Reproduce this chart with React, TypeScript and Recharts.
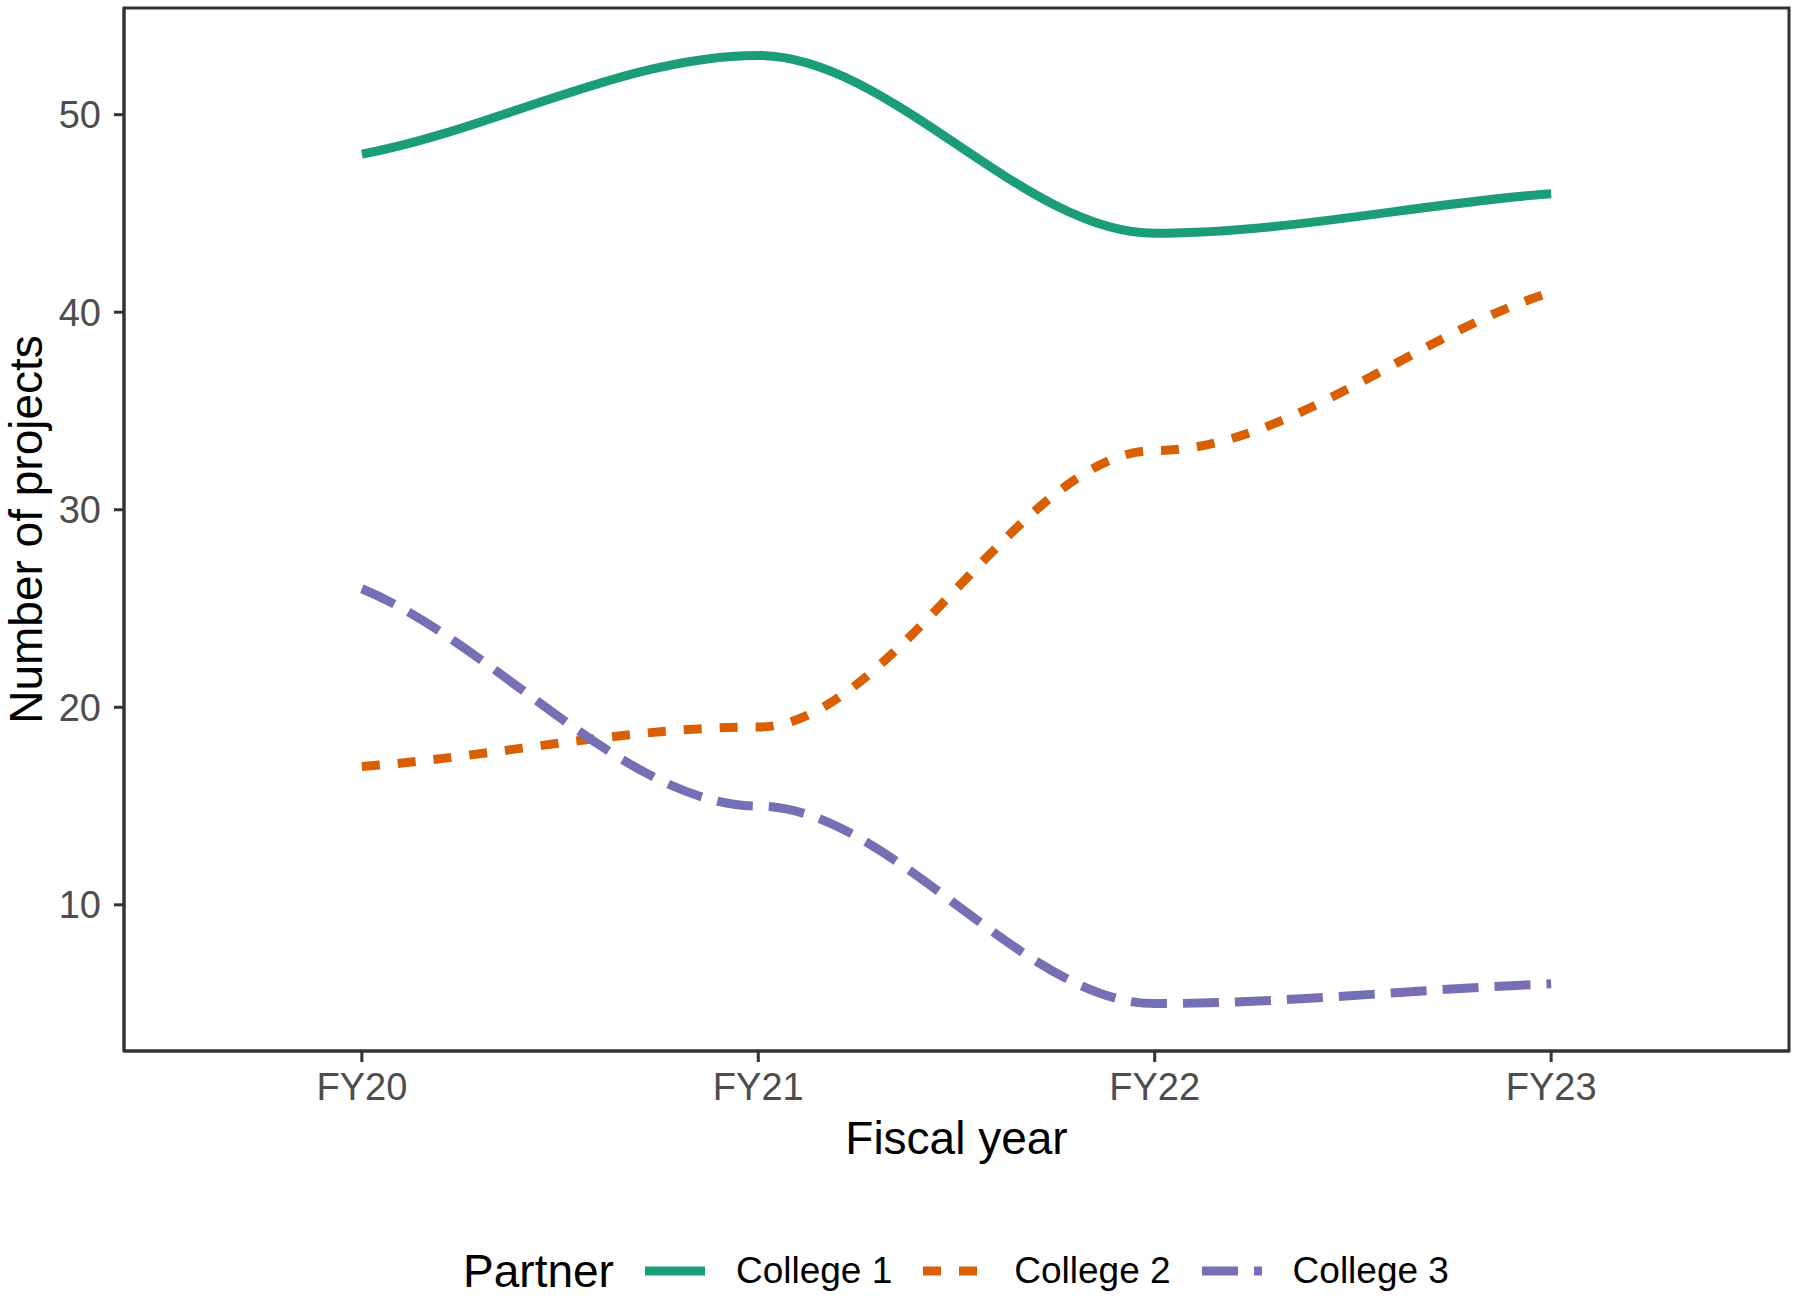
import React from "react";
import {
  LineChart,
  Line,
  XAxis,
  YAxis,
  Legend,
  ReferenceArea,
} from "recharts";

// values
const fiscalYears = ["FY20", "FY21", "FY22", "FY23"];
const college1 = [48, 53, 44, 46];
const college2 = [17, 19, 33, 41];
const college3 = [26, 15, 5, 6];
const yTicks = [10, 20, 30, 40, 50];

const series = [
  { key: "college1", name: "College 1", color: "#1B9E77", dash: undefined as string | undefined },
  { key: "college2", name: "College 2", color: "#D95F02", dash: "18 18" },
  { key: "college3", name: "College 3", color: "#7570B3", dash: "36 16" },
];

const data = fiscalYears.map((fy, i) => ({
  x: i,
  fy,
  college1: college1[i],
  college2: college2[i],
  college3: college3[i],
}));

const FONT = '"Liberation Sans", Arial, Helvetica, sans-serif';
const X_DOMAIN: [number, number] = [-0.6, 3.6];
const Y_DOMAIN: [number, number] = [2.6, 55.4];

// smooth curve: flat through inner points, some slope kept at the ends
const END_K = 0.75;
function flatKnotCurve(context: any) {
  let xs: number[] = [];
  let ys: number[] = [];
  return {
    areaStart() {},
    areaEnd() {},
    lineStart() {
      xs = [];
      ys = [];
    },
    point(x: number, y: number) {
      xs.push(+x);
      ys.push(+y);
    },
    lineEnd() {
      const n = xs.length;
      if (!n) return;
      context.moveTo(xs[0], ys[0]);
      const m = xs.map((_, i) => {
        if (n < 2) return 0;
        if (i === 0) return (END_K * (ys[1] - ys[0])) / (xs[1] - xs[0]);
        if (i === n - 1)
          return (END_K * (ys[n - 1] - ys[n - 2])) / (xs[n - 1] - xs[n - 2]);
        return 0;
      });
      for (let i = 0; i < n - 1; i++) {
        const h = xs[i + 1] - xs[i];
        context.bezierCurveTo(
          xs[i] + h / 3,
          ys[i] + (m[i] * h) / 3,
          xs[i + 1] - h / 3,
          ys[i + 1] - (m[i + 1] * h) / 3,
          xs[i + 1],
          ys[i + 1]
        );
      }
    },
  };
}

function PartnerLegend() {
  return (
    <div
      style={{
        height: 52,
        display: "flex",
        alignItems: "center",
        justifyContent: "center",
        paddingLeft: 116,
        fontFamily: FONT,
        color: "#000",
      }}
    >
      <span style={{ fontSize: 46, marginRight: 31 }}>Partner</span>
      {series.map((s, i) => (
        <React.Fragment key={s.key}>
          <svg width={60} height={20} style={{ display: "block" }}>
            <line
              x1={0}
              y1={10}
              x2={60}
              y2={10}
              stroke={s.color}
              strokeWidth={9}
              strokeDasharray={s.dash}
            />
          </svg>
          <span
            style={{
              fontSize: 37,
              marginLeft: 31,
              marginRight: i < series.length - 1 ? 31 : 0,
            }}
          >
            {s.name}
          </span>
        </React.Fragment>
      ))}
    </div>
  );
}

export default function App() {
  return (
    <div style={{ background: "#fff" }}>
      <style>{`body{margin:0;background:#fff}`}</style>
      <LineChart
        width={1796}
        height={1299}
        data={data}
        margin={{ top: 8, right: 7, left: 0, bottom: 6 }}
      >
        <XAxis
          type="number"
          dataKey="x"
          domain={X_DOMAIN}
          ticks={[0, 1, 2, 3]}
          tickFormatter={(v: number) => fiscalYears[v]}
          height={190}
          tickSize={11}
          tickMargin={11}
          interval={0}
          axisLine={{ stroke: "#333333", strokeWidth: 3 }}
          tickLine={{ stroke: "#333333", strokeWidth: 3 }}
          tick={{ fill: "#4D4D4D", fontSize: 38, fontFamily: FONT }}
          label={{
            content: (props: any) => {
              const vb = props.viewBox || {};
              return (
                <text
                  x={vb.x + vb.width / 2}
                  y={vb.y + 103}
                  textAnchor="middle"
                  fontSize={46}
                  fontFamily={FONT}
                  fill="#000"
                >
                  Fiscal year
                </text>
              );
            },
          }}
        />
        <YAxis
          type="number"
          domain={Y_DOMAIN}
          ticks={yTicks}
          width={124}
          tickSize={10}
          tickMargin={13}
          axisLine={{ stroke: "#333333", strokeWidth: 3 }}
          tickLine={{ stroke: "#333333", strokeWidth: 3 }}
          tick={{ fill: "#4D4D4D", fontSize: 38, fontFamily: FONT }}
          label={{
            content: (props: any) => {
              const vb = props.viewBox || {};
              const cx = 42;
              const cy = vb.y + vb.height / 2;
              return (
                <text
                  x={cx}
                  y={cy}
                  transform={`rotate(-90, ${cx}, ${cy})`}
                  textAnchor="middle"
                  fontSize={46}
                  fontFamily={FONT}
                  fill="#000"
                >
                  Number of projects
                </text>
              );
            },
          }}
        />
        {/* panel border */}
        <ReferenceArea
          x1={X_DOMAIN[0]}
          x2={X_DOMAIN[1]}
          y1={Y_DOMAIN[0]}
          y2={Y_DOMAIN[1]}
          fill="none"
          fillOpacity={0}
          stroke="#333333"
          strokeWidth={3}
          ifOverflow="visible"
        />
        {series.map((s) => (
          <Line
            key={s.key}
            type={flatKnotCurve as any}
            dataKey={s.key}
            name={s.name}
            stroke={s.color}
            strokeWidth={9}
            strokeDasharray={s.dash}
            strokeLinecap="butt"
            dot={false}
            activeDot={false}
            isAnimationActive={false}
          />
        ))}
        <Legend
          verticalAlign="bottom"
          content={() => <PartnerLegend />}
          wrapperStyle={{ left: 0, width: 1796, top: 1245, bottom: "auto" }}
        />
      </LineChart>
    </div>
  );
}
